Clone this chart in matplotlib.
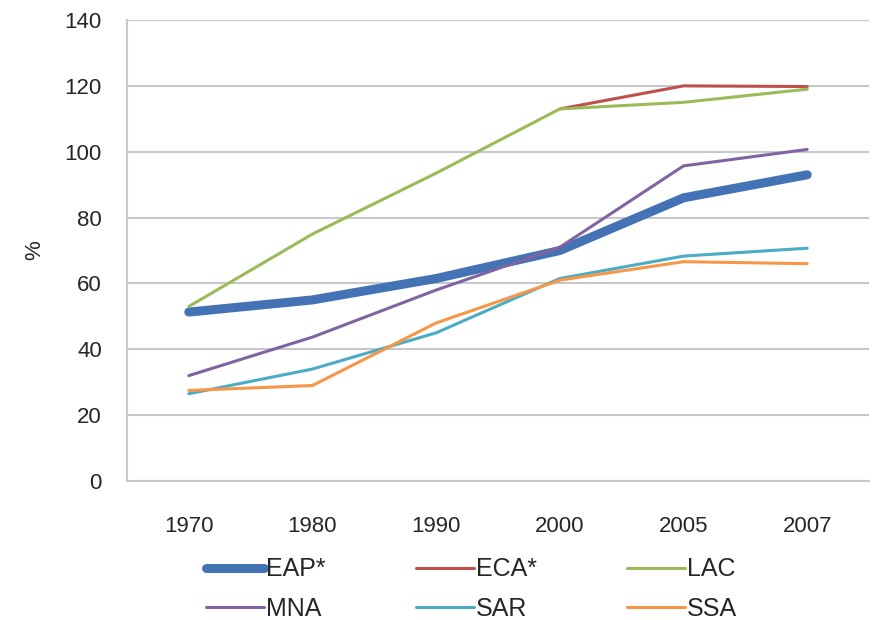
import numpy as np
import matplotlib
matplotlib.use('Agg')
import matplotlib.pyplot as plt

plt.rcParams['font.family'] = ['Liberation Sans', 'DejaVu Sans']

# data
years = ['1970', '1980', '1990', '2000', '2005', '2007']
eap = [51.3, 55.0, 61.5, 70.0, 86.0, 93.0]
eca = [None, None, None, 113.0, 120.0, 119.8]
lac = [53.0, 75.0, 93.5, 113.0, 115.0, 119.0]
mna = [32.0, 43.7, 58.0, 71.0, 95.7, 100.7]
sar = [26.5, 34.0, 45.0, 61.5, 68.3, 70.7]
ssa = [27.5, 29.0, 48.0, 61.0, 66.6, 66.0]

series = [('EAP*', eap, '#4373B5', 6.5),
          ('ECA*', eca, '#C0504D', 2.2),
          ('LAC', lac, '#9BBB59', 2.2),
          ('MNA', mna, '#8064A2', 2.2),
          ('SAR', sar, '#4BACC6', 2.2),
          ('SSA', ssa, '#F79646', 2.2)]

fig = plt.figure(figsize=(8.72, 6.2), dpi=100)
ax = fig.add_axes([0.1456, 0.2242, 0.851, 0.7435])

x = np.arange(len(years))
handles = []
for name, vals, col, lw in series:
    v = np.array([np.nan if a is None else a for a in vals], dtype=float)
    h, = ax.plot(x, v, color=col, lw=lw, label=name, solid_capstyle='round',
                 solid_joinstyle='round')
    handles.append(h)

ax.set_xlim(-0.5, len(years) - 0.5)
ax.set_ylim(0, 140)
ax.set_yticks(np.arange(0, 141, 20))
ax.set_xticks(x)
ax.set_xticklabels(years)
ax.yaxis.grid(True, color='#C8C8C8', lw=1.5)
ax.set_axisbelow(True)
for s in ['top', 'right']:
    ax.spines[s].set_visible(False)
for s in ['left', 'bottom']:
    ax.spines[s].set_color('#C8C8C8')
    ax.spines[s].set_linewidth(1.5)
ax.tick_params(axis='y', length=0, pad=18, labelsize=16, colors='#262626')
ax.tick_params(axis='x', length=0, pad=25, labelsize=16, colors='#262626')
ax.set_ylabel('%', fontsize=16, color='#262626', labelpad=14)

# legend is filled column by column, reorder so rows read EAP ECA LAC / MNA SAR SSA
order = [0, 3, 1, 4, 2, 5]
fig.legend([handles[i] for i in order], [series[i][0] for i in order],
           loc='center', bbox_to_anchor=(0.541, 0.05), ncol=3, frameon=False,
           fontsize=18, handlelength=2.3, handletextpad=0.1, columnspacing=3.6,
           labelspacing=0.6, labelcolor='#262626')

fig.savefig('out.png', dpi=100)
